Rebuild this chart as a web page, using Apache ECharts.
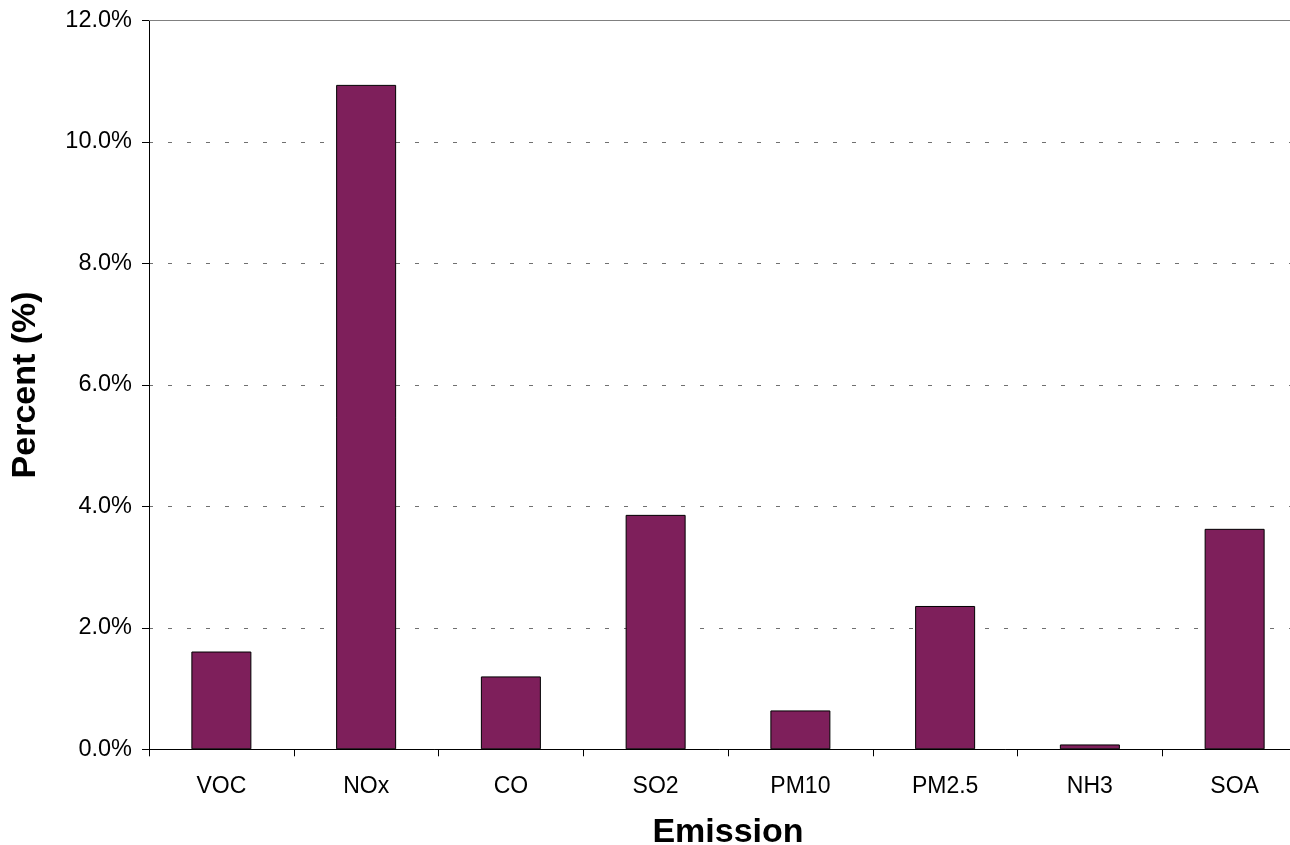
<!DOCTYPE html>
<html>
<head>
<meta charset="utf-8">
<script src="https://cdn.jsdelivr.net/npm/echarts@6/dist/echarts.min.js"></script>
<style>
html,body{margin:0;padding:0;background:#fff;}
#chart{width:1290px;height:845px;}
</style>
</head>
<body>
<div id="chart"></div>
<script>
const categories = ['VOC', 'NOx', 'CO', 'SO2', 'PM10', 'PM2.5', 'NH3', 'SOA'];
const percentValues = [1.61, 10.94, 1.20, 3.86, 0.64, 2.36, 0.08, 3.63];
const yTicks = [0, 2, 4, 6, 8, 10, 12];

const chart = echarts.init(document.getElementById('chart'), null, {renderer: 'canvas'});
const FONT = 'Liberation Sans, Arial, sans-serif';
chart.setOption({
  backgroundColor: '#ffffff',
  animation: false,
  grid: {left: 149, top: 20.5, bottom: 95.7, width: 1158, containLabel: false, outerBoundsMode: 'none'},
  xAxis: [{
    type: 'category',
    data: categories,
    position: 'bottom',
    name: 'Emission',
    nameLocation: 'middle',
    nameGap: 66,
    nameTextStyle: {fontFamily: FONT, fontSize: 34, fontWeight: 'bold', color: '#000'},
    axisLine: {lineStyle: {color: '#000', width: 1}},
    axisTick: {show: true, length: 7, alignWithLabel: false, lineStyle: {color: '#000'}},
    axisLabel: {fontFamily: FONT, fontSize: 23, color: '#000', margin: 26, interval: 0},
    splitLine: {show: false}
  }, {
    type: 'category',
    data: categories,
    position: 'top',
    axisLine: {show: true, lineStyle: {color: '#808080', width: 1}},
    axisTick: {show: false},
    axisLabel: {show: false},
    splitLine: {show: false}
  }],
  yAxis: {
    type: 'value',
    min: yTicks[0],
    max: yTicks[yTicks.length - 1],
    interval: 2,
    name: 'Percent (%)',
    nameLocation: 'middle',
    nameGap: 106,
    nameTextStyle: {fontFamily: FONT, fontSize: 34, fontWeight: 'bold', color: '#000'},
    axisLine: {show: true, lineStyle: {color: '#000', width: 1}},
    axisTick: {show: true, length: 7, lineStyle: {color: '#000'}},
    axisLabel: {fontFamily: FONT, fontSize: 23.5, color: '#000', margin: 17,
      formatter: v => v.toFixed(1) + '%'},
    splitLine: {show: true, lineStyle: {color: '#707070', width: 1, type: [4, 15]}}
  },
  series: [{
    type: 'bar',
    data: percentValues,
    barWidth: 60,
    itemStyle: {color: '#7E1F5B', borderColor: '#000', borderWidth: 1}
  }]
});
</script>
</body>
</html>
